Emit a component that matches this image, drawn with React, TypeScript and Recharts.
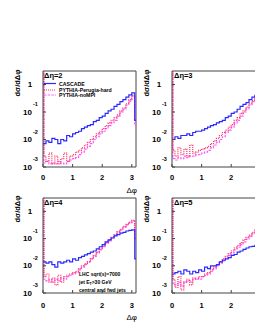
import React from 'react';
import { LineChart, Line, XAxis, YAxis, ReferenceLine } from 'recharts';

// bin edges in delta phi (first narrow bin = spike at 0, last narrow bin = drop at pi)
const phiEdges = [
  0, 0.03, 0.1, 0.2, 0.3, 0.4, 0.5, 0.6, 0.7, 0.8, 0.9, 1.0, 1.1, 1.2, 1.3, 1.4, 1.5, 1.6,
  1.7, 1.8, 1.9, 2.0, 2.1, 2.2, 2.3, 2.4, 2.5, 2.6, 2.7, 2.8, 2.9, 3.0, 3.1, 3.1416,
];

// delta eta = 2
const cascadeDeta2 = [
  0.0071, 0.0071, 0.0089, 0.0079, 0.011, 0.01, 0.0071, 0.01, 0.0089, 0.014, 0.0126,
  0.016, 0.018, 0.02, 0.025, 0.028, 0.032, 0.035, 0.045, 0.05, 0.063, 0.071, 0.089, 0.11,
  0.126, 0.16, 0.19, 0.24, 0.28, 0.35, 0.42, 0.5, 0.05,
];
const perugiaDeta2 = [
  8, 0.0025, 0.0016, 0.0032, 0.0013, 0.0025, 0.0013, 0.002, 0.0032, 0.0016, 0.0025,
  0.0028, 0.0035, 0.004, 0.005, 0.0063, 0.0079, 0.01, 0.0126, 0.016, 0.02, 0.025, 0.032,
  0.04, 0.05, 0.063, 0.079, 0.11, 0.14, 0.2, 0.28, 0.4, 0.05,
];
const noMpiDeta2 = [
  8, 0.0014, 0.0016, 0.0013, 0.0014, 0.0013, 0.0016, 0.0014, 0.0013, 0.0016, 0.0018,
  0.002, 0.0022, 0.0028, 0.0035, 0.0045, 0.0056, 0.0071, 0.01, 0.0126, 0.016, 0.02, 0.025,
  0.032, 0.04, 0.05, 0.071, 0.1, 0.126, 0.18, 0.25, 0.38, 0.032,
];

// delta eta = 3
const cascadeDeta3 = [
  0.01, 0.01, 0.0126, 0.011, 0.014, 0.014, 0.016, 0.014, 0.018, 0.02, 0.02,
  0.022, 0.025, 0.028, 0.032, 0.035, 0.04, 0.045, 0.05, 0.063, 0.071, 0.089, 0.1, 0.126,
  0.16, 0.19, 0.22, 0.28, 0.35, 0.4, 0.48, 0.56, 0.1,
];
const perugiaDeta3 = [
  8, 0.004, 0.0025, 0.005, 0.0028, 0.0045, 0.0025, 0.0063, 0.0032, 0.0035, 0.004,
  0.0045, 0.005, 0.0056, 0.0071, 0.0089, 0.011, 0.014, 0.018, 0.022, 0.028, 0.035, 0.05,
  0.063, 0.089, 0.11, 0.15, 0.2, 0.26, 0.35, 0.45, 0.52, 0.1,
];
const noMpiDeta3 = [
  8, 0.002, 0.0018, 0.0022, 0.002, 0.0025, 0.0022, 0.0025, 0.0025, 0.0028, 0.0028,
  0.0032, 0.0035, 0.004, 0.005, 0.0063, 0.0079, 0.01, 0.0126, 0.018, 0.022, 0.028, 0.04,
  0.05, 0.071, 0.1, 0.13, 0.18, 0.24, 0.33, 0.42, 0.5, 0.1,
];

// delta eta = 4
const cascadeDeta4 = [
  0.014, 0.014, 0.0126, 0.014, 0.011, 0.0089, 0.014, 0.0126, 0.014, 0.016, 0.014,
  0.018, 0.016, 0.02, 0.022, 0.025, 0.028, 0.032, 0.035, 0.042, 0.05, 0.06, 0.076, 0.089,
  0.105, 0.126, 0.14, 0.16, 0.17, 0.19, 0.2, 0.21, 0.018,
];
const perugiaDeta4 = [
  8, 0.004, 0.005, 0.0025, 0.0035, 0.002, 0.0045, 0.0025, 0.004, 0.0045, 0.005,
  0.0056, 0.0063, 0.0079, 0.01, 0.012, 0.014, 0.018, 0.024, 0.032, 0.04, 0.052, 0.071,
  0.089, 0.11, 0.14, 0.18, 0.22, 0.28, 0.33, 0.4, 0.47, 0.1,
];
const noMpiDeta4 = [
  8, 0.0032, 0.0028, 0.0032, 0.0025, 0.0032, 0.0028, 0.0035, 0.0032, 0.004, 0.0045,
  0.005, 0.0056, 0.0071, 0.0089, 0.011, 0.014, 0.018, 0.022, 0.03, 0.038, 0.05, 0.066,
  0.083, 0.105, 0.13, 0.17, 0.21, 0.26, 0.32, 0.38, 0.45, 0.1,
];

// delta eta = 5
const cascadeDeta5 = [
  0.005, 0.005, 0.0056, 0.0063, 0.005, 0.0071, 0.0063, 0.005, 0.0063, 0.0056, 0.0071,
  0.0063, 0.0089, 0.0079, 0.01, 0.01, 0.011, 0.014, 0.016, 0.018, 0.02, 0.024, 0.026,
  0.032, 0.035, 0.04, 0.045, 0.05, 0.052, 0.056, 0.06, 0.063, 0.016,
];
const perugiaDeta5 = [
  8, 0.0032, 0.0016, 0.004, 0.0013, 0.0025, 0.0032, 0.002, 0.0035, 0.0032, 0.004,
  0.004, 0.005, 0.0056, 0.0071, 0.0089, 0.011, 0.014, 0.018, 0.022, 0.028, 0.035, 0.045,
  0.056, 0.071, 0.089, 0.11, 0.135, 0.17, 0.21, 0.25, 0.3, 0.1,
];
const noMpiDeta5 = [
  8, 0.0022, 0.002, 0.0025, 0.0018, 0.0025, 0.0028, 0.0025, 0.0032, 0.0035, 0.0032,
  0.004, 0.0045, 0.005, 0.0063, 0.0079, 0.01, 0.0126, 0.015, 0.019, 0.024, 0.03, 0.038,
  0.048, 0.06, 0.076, 0.095, 0.12, 0.15, 0.19, 0.23, 0.28, 0.1,
];

const xTicksLeft = [0, 1, 2, 3];
const xTicksRight = [0, 1, 2]; // "3" falls outside the page on the right column
const yTicks = [0.001, 0.01, 0.1, 1];
const yMax = 3.1;

const COLORS = { cascade: '#2a2aff', perugia: '#ff2f5f', noMpi: '#ff5cff', frame: '#444' };
const FONT = '"Liberation Sans", Arial, Helvetica, sans-serif';

const panels = [
  { label: 'Δη=2', left: 0, top: 70, plotH: 96, ticks: xTicksLeft, cascade: cascadeDeta2, perugia: perugiaDeta2, noMpi: noMpiDeta2 },
  { label: 'Δη=3', left: 129, top: 70, plotH: 96, ticks: xTicksRight, cascade: cascadeDeta3, perugia: perugiaDeta3, noMpi: noMpiDeta3 },
  { label: 'Δη=4', left: 0, top: 197, plotH: 95, ticks: xTicksLeft, cascade: cascadeDeta4, perugia: perugiaDeta4, noMpi: noMpiDeta4 },
  { label: 'Δη=5', left: 129, top: 197, plotH: 95, ticks: xTicksRight, cascade: cascadeDeta5, perugia: perugiaDeta5, noMpi: noMpiDeta5 },
];

function toRows(p) {
  const n = p.cascade.length;
  return phiEdges.map((phi, i) => {
    const k = Math.min(i, n - 1);
    return { phi, cascade: p.cascade[k], perugia: p.perugia[k], noMpi: p.noMpi[k] };
  });
}

function makeXTick(gap) {
  return function XTick({ x, y, payload }) {
    return (
      <g>
        <line x1={x} x2={x} y1={y} y2={y - 3} stroke={COLORS.frame} />
        <text x={x} y={y + gap} textAnchor="middle" dominantBaseline="central"
          fontSize={7.5} fontWeight="bold" fontFamily={FONT} fill="#000">
          {payload.value}
        </text>
      </g>
    );
  };
}

function YTick({ x, y, payload }) {
  const exp = Math.round(Math.log10(payload.value));
  return (
    <g>
      <line x1={x} x2={x + 3} y1={y} y2={y} stroke={COLORS.frame} />
      {exp === 0 ? (
        <text x={x - 13} y={y} textAnchor="middle" dominantBaseline="central"
          fontSize={8} fontWeight="bold" fontFamily={FONT} fill="#000">1</text>
      ) : (
        <g fontWeight="bold" fontFamily={FONT} fill="#000">
          <text x={x - 11} y={y} textAnchor="end" dominantBaseline="central" fontSize={8}>10</text>
          <text x={x - 10} y={y - 8} textAnchor="start" dominantBaseline="central" fontSize={5.5}>{exp}</text>
        </g>
      )}
    </g>
  );
}

function Panel({ p, gap }) {
  const rows = toRows(p);
  return (
    <div style={{ position: 'absolute', left: p.left, top: p.top }}>
      <LineChart width={137} height={p.plotH + 21} data={rows}
        margin={{ top: 1, right: 1, bottom: 0, left: 0 }}>
        <XAxis dataKey="phi" type="number" domain={[0, Math.PI]} ticks={p.ticks}
          allowDataOverflow height={20} tickSize={0} tickMargin={0}
          axisLine={{ stroke: COLORS.frame }} tick={makeXTick(gap)} />
        <YAxis type="number" scale="log" domain={[0.001, yMax]} ticks={yTicks}
          allowDataOverflow width={43} tickSize={0} tickMargin={0}
          axisLine={{ stroke: COLORS.frame }} tick={YTick} />
        <ReferenceLine y={yMax} stroke={COLORS.frame} />
        <ReferenceLine x={Math.PI} stroke={COLORS.frame} />
        <Line type="stepAfter" dataKey="noMpi" stroke={COLORS.noMpi} strokeWidth={1.2}
          strokeDasharray="2.5 1.2" dot={false} isAnimationActive={false} />
        <Line type="stepAfter" dataKey="perugia" stroke={COLORS.perugia} strokeWidth={1.2}
          strokeDasharray="1 1" dot={false} isAnimationActive={false} />
        <Line type="stepAfter" dataKey="cascade" stroke={COLORS.cascade} strokeWidth={1.2}
          dot={false} isAnimationActive={false} />
      </LineChart>
    </div>
  );
}

export default function App() {
  return (
    <div style={{ position: 'absolute', left: 0, top: 0, width: 255, height: 330,
      overflow: 'hidden', background: '#fff', fontFamily: FONT }}>
      {panels.map((p, i) => (
        <Panel key={p.label} p={p} gap={i < 2 ? 10 : 12} />
      ))}
      <svg width={255} height={330} style={{ position: 'absolute', left: 0, top: 0, pointerEvents: 'none' }}
        fontFamily={FONT}>
        {/* y titles */}
        {[[17, 83], [146, 83], [17, 209], [146, 209]].map(([cx, cy], i) => (
          <text key={i} x={cx} y={cy} transform={`rotate(-90 ${cx} ${cy})`} textAnchor="middle"
            dominantBaseline="central" fontSize={7.5} fontWeight="bold">dσ/dΔφ</text>
        ))}
        {/* x titles */}
        <text x={137} y={190} textAnchor="end" dominantBaseline="central" fontSize={8}>Δφ</text>
        <text x={137} y={317} textAnchor="end" dominantBaseline="central" fontSize={8}>Δφ</text>
        {/* panel labels */}
        <text x={44} y={75} dominantBaseline="central" fontSize={7.5} fontWeight="bold">Δη=2</text>
        <text x={174} y={75} dominantBaseline="central" fontSize={7.5} fontWeight="bold">Δη=3</text>
        <text x={44} y={202} dominantBaseline="central" fontSize={7.5} fontWeight="bold">Δη=4</text>
        <text x={174} y={202} dominantBaseline="central" fontSize={7.5} fontWeight="bold">Δη=5</text>
        {/* legend */}
        <line x1={44} x2={56} y1={83.5} y2={83.5} stroke={COLORS.cascade} strokeWidth={1.2} />
        <line x1={44} x2={56} y1={90} y2={90} stroke={COLORS.perugia} strokeWidth={1.2} strokeDasharray="1 1" />
        <line x1={44} x2={56} y1={95} y2={95} stroke={COLORS.noMpi} strokeWidth={1.2} strokeDasharray="2.5 1.2" />
        <g fontSize={5.2} fontWeight="bold">
          <text x={59} y={83.5} dominantBaseline="central">CASCADE</text>
          <text x={59} y={90} dominantBaseline="central">PYTHIA-Perugia-hard</text>
          <text x={59} y={95} dominantBaseline="central">PYTHIA-noMPI</text>
        </g>
        {/* annotation */}
        <g fontSize={5} fontWeight="bold">
          <text x={79} y={274} dominantBaseline="central">LHC sqrt(s)=7000</text>
          <text x={79} y={282} dominantBaseline="central">
            jet  E<tspan fontSize={3.5} dy={1.5}>T</tspan><tspan dy={-1.5}>&gt;30 GeV</tspan>
          </text>
          <text x={79} y={290} dominantBaseline="central">central and fwd jets</text>
        </g>
      </svg>
    </div>
  );
}
